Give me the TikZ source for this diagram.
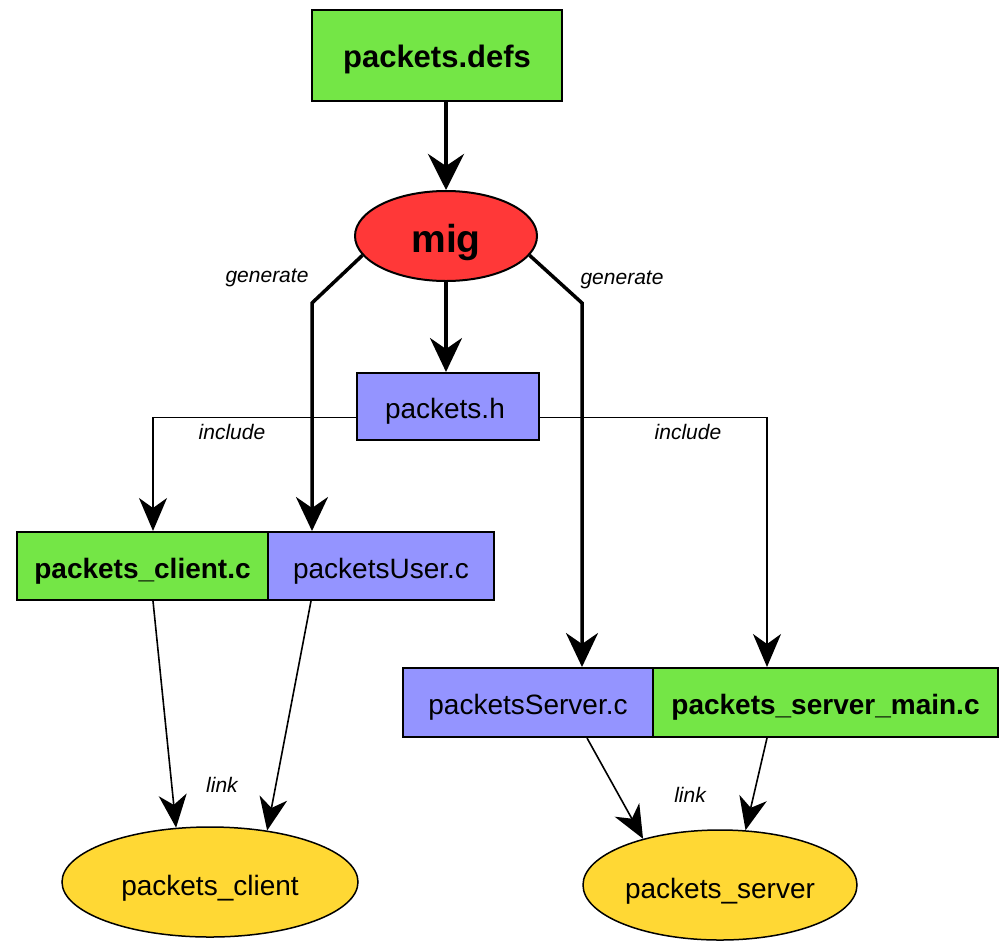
\documentclass[tikz,border=0pt]{standalone}
\usepackage{fontspec}
\setmainfont{Liberation Sans}
\usetikzlibrary{arrows.meta,shapes.geometric}

\definecolor{srcgreen}{RGB}{116,230,70}
\definecolor{hdrblue}{RGB}{148,148,255}
\definecolor{toolred}{RGB}{255,56,56}
\definecolor{binyellow}{RGB}{255,216,52}

\tikzset{
  filebox/.style={draw=black, line width=2pt, rectangle, inner sep=0pt,
    text height=30pt, text depth=6pt, font=\fontsize{28}{32}\selectfont},
  genfile/.style={filebox, fill=srcgreen, font=\fontsize{28}{32}\selectfont\bfseries},
  autofile/.style={filebox, fill=hdrblue},
  toolnode/.style={draw=black, line width=2pt, ellipse, fill=toolred, inner sep=0pt,
    text height=40pt, text depth=8pt, font=\fontsize{39}{42}\selectfont\bfseries},
  binnode/.style={draw=black, line width=1.5pt, ellipse, fill=binyellow, inner sep=0pt,
    text height=32pt, text depth=6pt, font=\fontsize{28}{32}\selectfont},
  heavyedge/.style={line width=4.5pt, -{Stealth[length=36pt,width=36pt,inset=12pt]}},
  genedge/.style={line width=3.5pt, -{Stealth[length=34pt,width=32pt,inset=11pt]}},
  lightedge/.style={line width=1.6pt, -{Stealth[length=33pt,width=28pt,inset=10pt]}},
  edgelabel/.style={font=\fontsize{21}{24}\selectfont\itshape, inner sep=0pt}
}

\begin{document}
\begin{tikzpicture}[x=1pt,y=-1pt]
  \useasboundingbox (0,0) rectangle (1000,940);

  % source definition and the generator
  \node[genfile, minimum width=250pt, minimum height=91pt, font=\fontsize{31}{34}\selectfont\bfseries] (defs) at (437,55.5) {packets.defs};
  \node[toolnode, minimum width=182pt, minimum height=90pt] (mig) at (446,236) {mig};

  % generated header
  \node[autofile, minimum width=182pt, minimum height=67pt, text width=126pt, align=left] (hdr) at (448,406.5) {packets.h};

  % client side sources
  \node[genfile, minimum width=251pt, minimum height=68pt] (cli) at (142.5,566) {packets\_client.c};
  \node[autofile, minimum width=226pt, minimum height=68pt] (user) at (381,566) {packetsUser.c};

  % server side sources
  \node[autofile, minimum width=250pt, minimum height=69pt] (srv) at (528,702.5) {packetsServer.c};
  \node[genfile, minimum width=345pt, minimum height=69pt] (srvmain) at (825.5,702.5) {packets\_server\_main.c};

  % linked programs
  \node[binnode, minimum width=296pt, minimum height=110pt] (bincli) at (210,882) {packets\_client};
  \node[binnode, minimum width=274pt, minimum height=110pt] (binsrv) at (720,885) {packets\_server};

  % bend points of the generate edges
  \coordinate (genL) at (312,303);
  \coordinate (genR) at (582,303);

  % edges
  \draw[heavyedge] (mig.north |- defs.south) -- (mig.north);
  \draw[genedge] (mig.south) -- (mig.south |- hdr.north);
  \draw[genedge] (mig.193) -- (genL) -- (genL |- user.north);
  \draw[genedge] (mig.347) -- (genR) -- (genR |- srv.north);

  \draw[lightedge] ([yshift=-11pt]hdr.west) -| ([xshift=10.5pt]cli.north);
  \draw[lightedge] ([yshift=-11pt]hdr.east) -| ([xshift=-58.5pt]srvmain.north);

  \draw[lightedge] ([xshift=10.5pt]cli.south) -- (bincli.122);
  \draw[lightedge] ([xshift=-70pt]user.south) -- (bincli.42);
  \draw[lightedge] ([xshift=59pt]srv.south) -- (binsrv.149);
  \draw[lightedge] ([xshift=-58.5pt]srvmain.south) -- (binsrv.65);

  % edge labels
  \node[edgelabel] (lgenL) at (267,278) {generate};
  \node[edgelabel] (lgenR) at (622,280) {generate};
  \node[edgelabel] (lincL) at (232,432) {include};
  \node[edgelabel] (lincR) at (688,432) {include};
  \node[edgelabel] (llinkL) at (222,785) {link};
  \node[edgelabel] (llinkR) at (690,795) {link};
\end{tikzpicture}
\end{document}
